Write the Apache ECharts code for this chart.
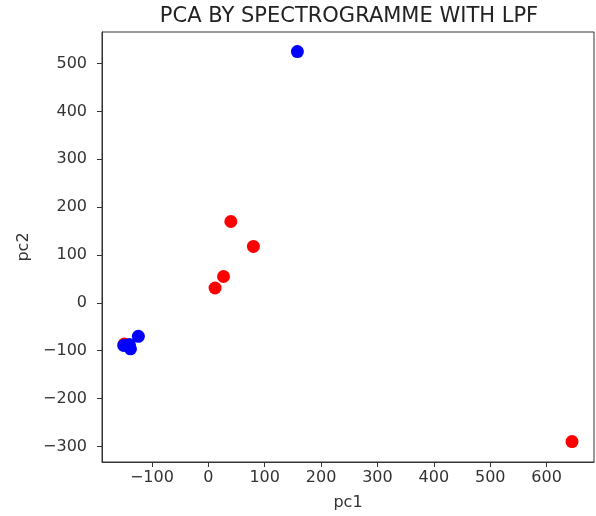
<!DOCTYPE html>
<html>
<head>
<meta charset="utf-8">
<script src="https://cdn.jsdelivr.net/npm/echarts@6/dist/echarts.min.js"></script>
<style>
  html, body { margin: 0; padding: 0; background: #fff; }
  #chart_pca { width: 596px; height: 516px; }
</style>
</head>
<body>
<div id="chart_pca"></div>
<script>
// points: [pc1, pc2]
var redPoints = [[40, 170], [80, 118], [27, 55], [12, 31], [645, -290], [-149, -86]];
var bluePoints = [[158, 525], [-124, -70], [-150, -89], [-140, -87], [-138, -96]];

var xTicks = [-100, 0, 100, 200, 300, 400, 500, 600];
var yTicks = [-300, -200, -100, 0, 100, 200, 300, 400, 500];

var myChart = echarts.init(document.getElementById("chart_pca"));
var font = "DejaVu Sans";

// matplotlib writes negatives with a real minus sign
function minus(v) {
    return String(v).replace("-", "\u2212");
}

var option = {
    animation: false,
    title: {
        text: "PCA BY SPECTROGRAMME WITH LPF",
        left: 344,
        top: 1,
        textAlign: "center",
        textStyle: { fontFamily: font, fontSize: 21, fontWeight: "normal", color: "#222" }
    },
    grid: {
        left: 102, right: 2, top: 32, bottom: 50,
        show: true,
        borderColor: "#333",
        borderWidth: 1
    },
    xAxis: {
        type: "value",
        min: -188.5,
        max: 684,
        name: "pc1",
        nameLocation: "middle",
        nameGap: 33,
        nameTextStyle: { fontFamily: font, fontSize: 16, color: "#333" },
        axisLine: { onZero: false, lineStyle: { color: "#333" } },
        axisTick: { show: true, customValues: xTicks, length: 5, lineStyle: { color: "#333" } },
        axisLabel: { customValues: xTicks, formatter: minus, fontFamily: font, fontSize: 16, color: "#333", margin: 8 },
        splitLine: { show: false }
    },
    yAxis: {
        type: "value",
        min: -332.6,
        max: 566,
        name: "pc2",
        nameLocation: "middle",
        nameGap: 67,
        nameTextStyle: { fontFamily: font, fontSize: 16, color: "#333" },
        axisLine: { show: true, onZero: false, lineStyle: { color: "#333" } },
        axisTick: { show: true, customValues: yTicks, length: 5, lineStyle: { color: "#333" } },
        axisLabel: { customValues: yTicks, formatter: minus, fontFamily: font, fontSize: 16, color: "#333", margin: 15 },
        splitLine: { show: false }
    },
    series: [
        {
            name: "red",
            type: "scatter",
            symbolSize: 13,
            itemStyle: { color: "#ff0000", opacity: 1 },
            data: redPoints
        },
        {
            name: "blue",
            type: "scatter",
            symbolSize: 13,
            itemStyle: { color: "#0000ff", opacity: 1 },
            data: bluePoints
        }
    ]
};

myChart.setOption(option);
</script>
</body>
</html>
